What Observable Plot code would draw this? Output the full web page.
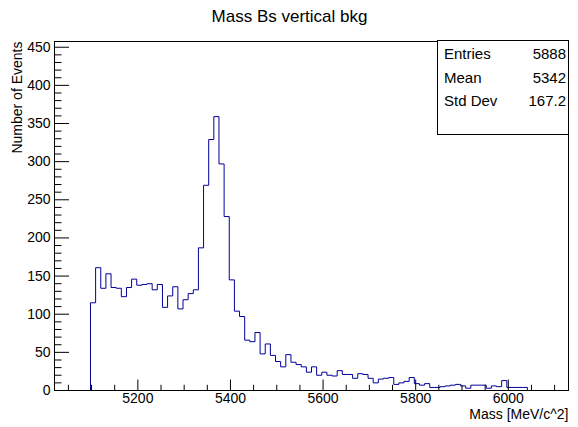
<!DOCTYPE html>
<html>
<head>
<meta charset="utf-8">
<script src="https://cdn.jsdelivr.net/npm/d3@7"></script>
<script src="https://cdn.jsdelivr.net/npm/@observablehq/plot@0.6"></script>
<style>
  html, body { margin: 0; padding: 0; background: #fff; }
  #chart svg { display: block; }
</style>
</head>
<body>
<div id="chart"></div>
<script>
// Histogram range and bin contents (100 bins)
const xMin = 5020;
const xMax = 6130;
const binCounts = [
  0, 0, 0, 0, 0, 0, 0,
  115, 161, 134, 153, 135, 134, 123, 135, 146, 138, 139, 140, 132, 139, 109, 124, 136, 107, 119, 127,
  132, 187, 269, 329, 359, 297, 228, 145,
  104, 97, 66, 64, 76, 48, 61, 46, 38, 31, 47, 37,
  34, 31, 24, 31, 20, 24, 20, 19, 26, 21, 21, 16, 22, 21, 16, 10, 15, 16, 17, 8, 10, 12, 17, 9, 7, 9,
  4, 4, 5, 6, 7, 8, 6, 3, 7, 7, 7, 3, 6, 5, 13, 4, 4, 4, 4,
  0, 0, 0, 0, 0, 0, 0, 0
];
const yMax = 457.5;

// Axis tick labels
const xMajorTicks = [5200, 5400, 5600, 5800, 6000];
const xMinorTicks = d3.range(5050, 6130, 50).filter(v => !xMajorTicks.includes(v));
const yMajorTicks = [0, 50, 100, 150, 200, 250, 300, 350, 400, 450];
const yMinorTicks = d3.range(10, yMax, 10).filter(v => v % 50 !== 0);

// Texts
const titleText = "Mass Bs vertical bkg";
const xTitle = "Mass [MeV/c^2]";
const yTitle = "Number of Events";
const statsLabels = ["Entries", "Mean", "Std Dev"];
const statsValues = ["5888", "5342", "167.2"];

const binWidth = (xMax - xMin) / binCounts.length;
const steps = binCounts.map((c, i) => ({x: xMin + i * binWidth, y: c}));
steps.push({x: xMax, y: binCounts[binCounts.length - 1]});

const font = "'Liberation Sans', Arial, Helvetica, sans-serif";
const W = 578, H = 427;
const mL = 54, mR = 10, mT = 41, mB = 37;
const plotW = W - mL - mR, plotH = H - mT - mB;

const plot = Plot.plot({
  width: W,
  height: H,
  marginLeft: mL,
  marginRight: mR,
  marginTop: mT,
  marginBottom: mB,
  style: {fontFamily: font, fontSize: "14px", background: "#fff", color: "#000"},
  x: {domain: [xMin, xMax], axis: null},
  y: {domain: [0, yMax], axis: null},
  marks: [
    Plot.line(steps, {x: "x", y: "y", curve: "step-after", stroke: "#000099", strokeWidth: 1}),
    // inward ticks, ROOT style
    Plot.ruleX(xMajorTicks, {x: d => d, insetTop: plotH - 10.5, stroke: "#000"}),
    Plot.ruleX(xMinorTicks, {x: d => d, insetTop: plotH - 5.2, stroke: "#000"}),
    Plot.ruleY(yMajorTicks, {y: d => d, insetRight: plotW - 15, stroke: "#000"}),
    Plot.ruleY(yMinorTicks, {y: d => d, insetRight: plotW - 7.5, stroke: "#000"}),
    // tick labels
    Plot.text(xMajorTicks, {x: d => d, text: d => String(d), frameAnchor: "bottom", dy: 3, lineAnchor: "top", fontSize: 14, fill: "#000"}),
    Plot.text(yMajorTicks, {y: d => d, text: d => String(d), frameAnchor: "left", dx: -4, textAnchor: "end", lineAnchor: "middle", fontSize: 14, fill: "#000"}),
    Plot.frame({stroke: "#000", strokeWidth: 1}),
    Plot.text([titleText], {frameAnchor: "top", dx: -22, dy: -20, fontSize: 17, lineAnchor: "bottom", fill: "#000"}),
    Plot.text([xTitle], {frameAnchor: "bottom-right", dx: 0, dy: 28.5, fontSize: 14, textAnchor: "end", lineAnchor: "bottom", fill: "#000"}),
    Plot.text([yTitle], {frameAnchor: "top-left", dx: -37, dy: 0, fontSize: 14, rotate: -90, textAnchor: "end", lineAnchor: "middle", fill: "#000"})
  ]
});

document.getElementById("chart").appendChild(plot);

// Stats box
const svg = d3.select(plot);
const box = {x: 437.5, y: 40.5, w: 131, h: 94};
const g = svg.append("g").attr("font-family", font).attr("font-size", 15).attr("fill", "#000");
g.append("rect").attr("x", box.x).attr("y", box.y).attr("width", box.w).attr("height", box.h)
  .attr("fill", "#fff").attr("stroke", "#000").attr("stroke-width", 1);
const baselines = [58.5, 83, 105.5];
statsLabels.forEach((lab, i) => {
  g.append("text").attr("x", 444).attr("y", baselines[i]).attr("text-anchor", "start").text(lab);
  g.append("text").attr("x", 566).attr("y", baselines[i]).attr("text-anchor", "end").text(statsValues[i]);
});
</script>
</body>
</html>
